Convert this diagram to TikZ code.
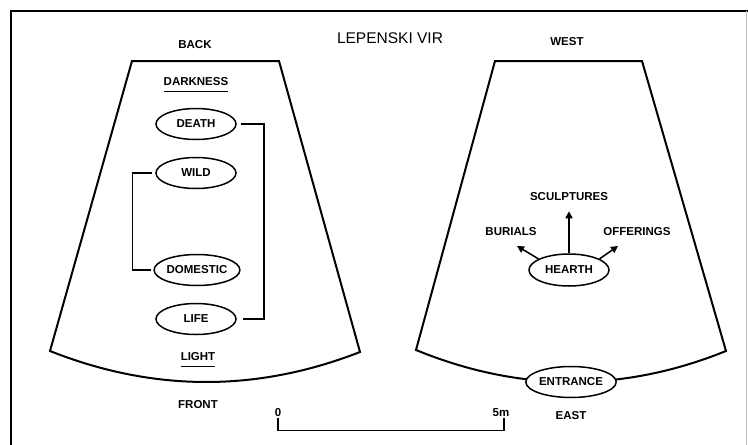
\documentclass[tikz,border=0pt]{standalone}
\usepackage{fontspec}
\setmainfont{Liberation Sans}
\usetikzlibrary{arrows.meta,shapes.geometric,positioning,calc}

\begin{document}
\begin{tikzpicture}[
  x=1pt,y=-1pt,
  wall/.style={line width=2pt,line join=miter},
  oval/.style={ellipse,draw,line width=1.5pt,fill=white,minimum width=80pt,minimum height=31pt,inner sep=0pt,font=\fontsize{11.5}{12}\bfseries},
  lbl/.style={font=\fontsize{11.5}{12}\bfseries,inner sep=1pt},
  uline/.style={lbl,inner xsep=0pt,inner ysep=5pt},
  link/.style={line width=1.5pt},
  arrow/.style={-{Triangle[length=7pt,width=7pt]},line width=1.5pt}
]
  \useasboundingbox (0,0) rectangle (748,445);
  % frame
  \draw[line width=1.8pt] (11,445) -- (11,11) -- (748,11);
  \draw[line width=0.8pt,black!25] (746,11) -- (746,445);

  \node[lbl,font=\fontsize{15.5}{16}\selectfont] (title) at (390,38) {LEPENSKI VIR};

  % left house: symbolic
  \draw[wall] (50,351) -- (132,61) -- (279,61) -- (360,352)
    .. controls (256.7,392.3) and (153.3,392) .. cycle;
  \node[lbl] (back) at (195,45) {BACK};
  \node[uline] (dark) at (196,82) {DARKNESS};
  \draw[link] (dark.south west) -- (dark.south east);
  \node[oval] (death) at (196,124) {DEATH};
  \node[oval] (wild) at (196,173) {WILD};
  \node[oval] (domestic) at (197,270) {DOMESTIC};
  \node[oval] (life) at (196,319) {LIFE};
  \node[uline] (light) at (198,357) {LIGHT};
  \draw[link] (light.south west) -- (light.south east);
  \node[lbl] (front) at (198,405) {FRONT};

  \draw[link] ([xshift=4pt]death.east) -- ++(23,0) |- ([xshift=6pt]life.east);
  \draw[link] ([xshift=-3pt]wild.west) -- ++(-20,0) |- ([xshift=-2pt]domestic.west);

  % right house: plan
  \draw[wall] (416,350) -- (495,61) -- (642,61) -- (726,351)
    .. controls (622.7,392.7) and (519.3,392.3) .. cycle;
  \node[lbl] (west) at (567,42) {WEST};
  \node[oval] (entrance) at (571,382) {ENTRANCE};
  \node[lbl] (east) at (571,416) {EAST};
  \node[oval,minimum height=32pt] (hearth) at (569,270) {HEARTH};
  \node[lbl] (sculpt) at (569,197) {SCULPTURES};
  \node[lbl] (burials) at (511,232) {BURIALS};
  \node[lbl] (offer) at (637,232) {OFFERINGS};
  \coordinate (burtip) at (517,246);
  \coordinate (offtip) at (618,246);

  \draw[arrow,shorten >=9pt] (hearth.north) -- (sculpt.south);
  \draw[arrow] (hearth.160) -- (burtip);
  \draw[arrow] (hearth.20) -- (offtip);

  % scale
  \node[lbl] (zero) at (278,413) {0};
  \node[lbl] (fivem) at (501,413) {5m};
  \draw[link] (zero.south) -- ++(0,12) -| ([xshift=3pt]fivem.south);
\end{tikzpicture}
\end{document}
